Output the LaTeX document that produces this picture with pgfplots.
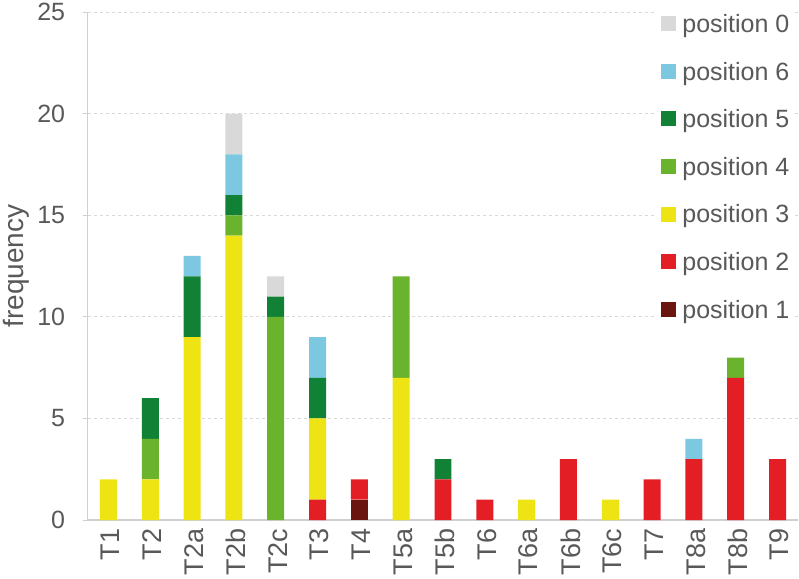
\documentclass[border=0pt]{standalone}
\usepackage{pgfplots}
\pgfplotsset{compat=1.18}
\usepackage{fontspec}
\setmainfont{Liberation Sans}
\definecolor{txt}{HTML}{595959}
\definecolor{axl}{HTML}{D0D0D0}
\definecolor{grd}{HTML}{D9D9D9}
\definecolor{p0}{HTML}{D9D9D9}
\definecolor{p6}{HTML}{7CC8E0}
\definecolor{p5}{HTML}{118235}
\definecolor{p4}{HTML}{6AB42D}
\definecolor{p3}{HTML}{EEE414}
\definecolor{p2}{HTML}{E31E24}
\definecolor{p1}{HTML}{6B1510}
\begin{document}
\begin{tikzpicture}
\begin{axis}[
  scale only axis,
  width=711pt, height=508pt,
  ybar stacked, bar width=17pt,
  xmin=-0.5, xmax=16.5,
  ymin=0, ymax=25,
  ytick={0,5,...,25},
  xtick={0,...,16},
  xticklabels={T1,T2,T2a,T2b,T2c,T3,T4,T5a,T5b,T6,T6a,T6b,T6c,T7,T8a,T8b,T9},
  x tick label style={rotate=90, anchor=east, font=\fontsize{27}{30}\selectfont, text=txt},
  y tick label style={font=\fontsize{25}{28}\selectfont, text=txt},
  /pgf/number format/assume math mode=true,
  xtick style={draw=none},
  ytick style={draw=axl, line width=1pt},
  tick align=outside,
  major tick length=5pt,
  yticklabel style={xshift=-14pt},
  xticklabel style={yshift=-2pt},
  axis x line*=bottom, axis y line*=left,
  axis line style={draw=axl, line width=1.2pt, -},
  ymajorgrids, grid style={dashed, draw=grd, line width=1pt},
  ylabel={frequency},
  ylabel style={font=\fontsize{28}{32}\selectfont, text=txt, yshift=1pt},
  legend style={at={(0.996,1.008)}, anchor=north east, draw=none, fill=white,
    font=\fontsize{25}{28}\selectfont, text=txt, row sep=24pt,
    inner sep=4pt},
  legend cell align=left,
  legend image code/.code={\fill[#1] (0pt,-7pt) rectangle (15pt,8pt); \path (19pt,0pt);},
  reverse legend,
]
\addplot[fill=p1, draw=none] coordinates {(0,0) (1,0) (2,0) (3,0) (4,0) (5,0) (6,1) (7,0) (8,0) (9,0) (10,0) (11,0) (12,0) (13,0) (14,0) (15,0) (16,0)};
\addplot[fill=p2, draw=none] coordinates {(0,0) (1,0) (2,0) (3,0) (4,0) (5,1) (6,1) (7,0) (8,2) (9,1) (10,0) (11,3) (12,0) (13,2) (14,3) (15,7) (16,3)};
\addplot[fill=p3, draw=none] coordinates {(0,2) (1,2) (2,9) (3,14) (4,0) (5,4) (6,0) (7,7) (8,0) (9,0) (10,1) (11,0) (12,1) (13,0) (14,0) (15,0) (16,0)};
\addplot[fill=p4, draw=none] coordinates {(0,0) (1,2) (2,0) (3,1) (4,10) (5,0) (6,0) (7,5) (8,0) (9,0) (10,0) (11,0) (12,0) (13,0) (14,0) (15,1) (16,0)};
\addplot[fill=p5, draw=none] coordinates {(0,0) (1,2) (2,3) (3,1) (4,1) (5,2) (6,0) (7,0) (8,1) (9,0) (10,0) (11,0) (12,0) (13,0) (14,0) (15,0) (16,0)};
\addplot[fill=p6, draw=none] coordinates {(0,0) (1,0) (2,1) (3,2) (4,0) (5,2) (6,0) (7,0) (8,0) (9,0) (10,0) (11,0) (12,0) (13,0) (14,1) (15,0) (16,0)};
\addplot[fill=p0, draw=none] coordinates {(0,0) (1,0) (2,0) (3,2) (4,1) (5,0) (6,0) (7,0) (8,0) (9,0) (10,0) (11,0) (12,0) (13,0) (14,0) (15,0) (16,0)};
\legend{position 1,position 2,position 3,position 4,position 5,position 6,position 0}
\end{axis}
\end{tikzpicture}
\end{document}
